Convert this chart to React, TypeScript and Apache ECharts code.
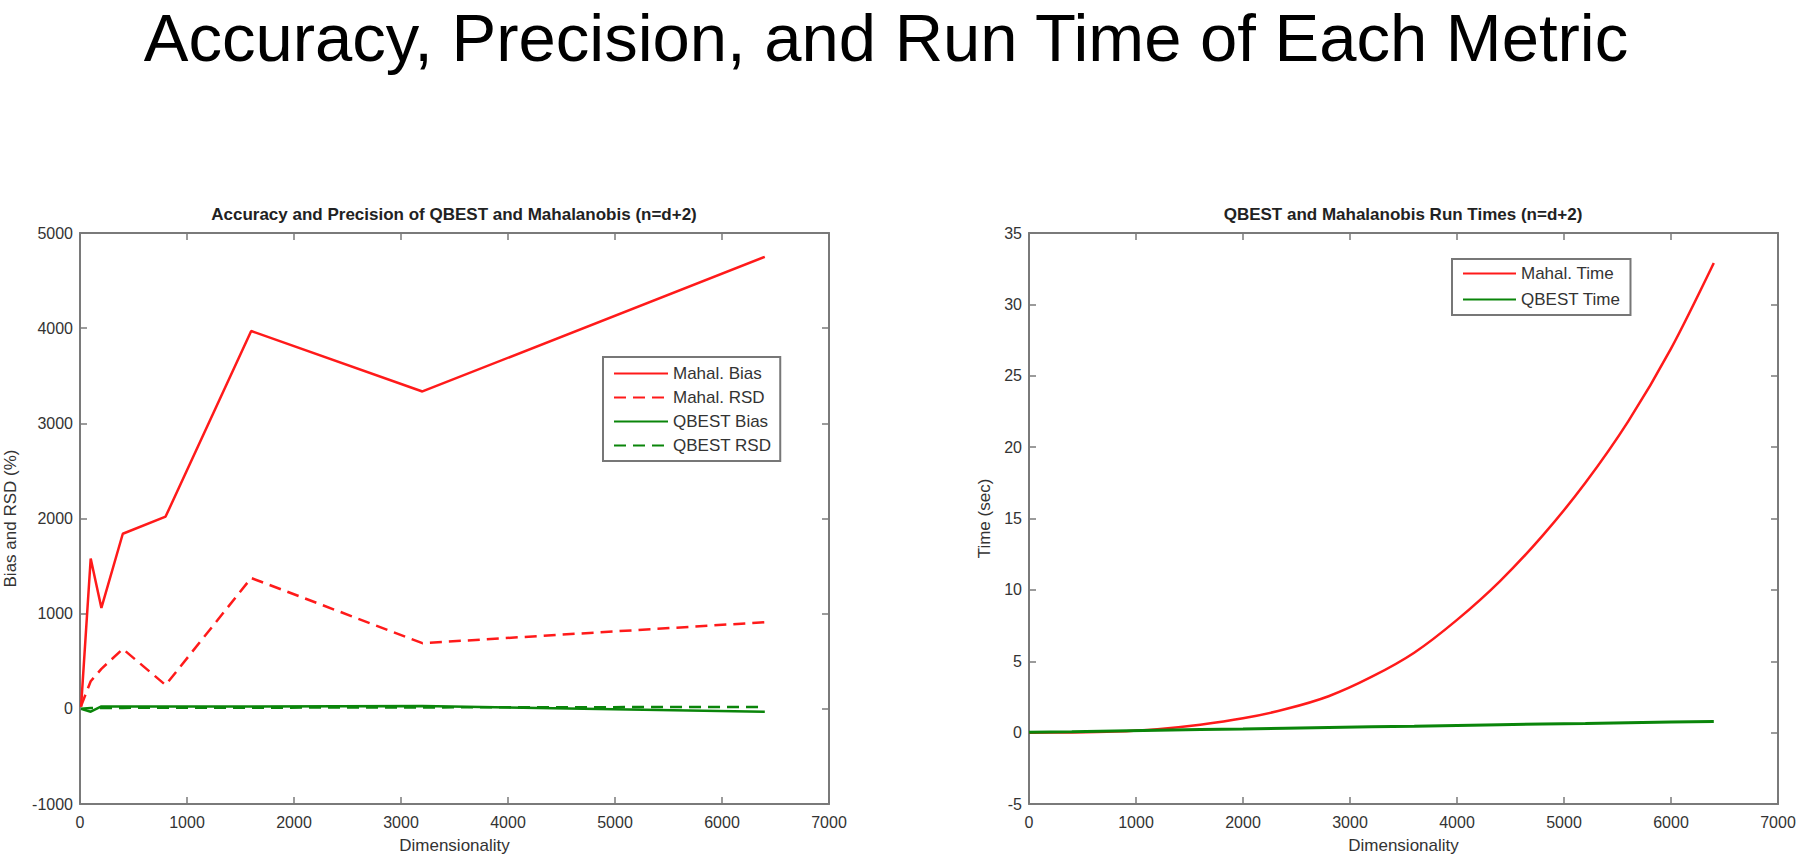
import React, { useEffect, useRef } from "react";
import * as echarts from "echarts";

// ---------- data ----------
const mainTitle = "Accuracy, Precision, and Run Time of Each Metric";
const leftTitle = "Accuracy and Precision of QBEST and Mahalanobis (n=d+2)";
const rightTitle = "QBEST and Mahalanobis Run Times (n=d+2)";

const dims = [10, 100, 200, 400, 800, 1600, 3200, 6400];
const mahalBias = [20, 1580, 1060, 1840, 2020, 3970, 3335, 4750];
const mahalRSD = [30, 290, 420, 630, 250, 1375, 690, 910];
const qbestBias = [0, -30, 25, 25, 25, 25, 30, -30];
const qbestRSD = [0, 10, 10, 10, 12, 12, 15, 20];

const timeDims = [0, 400, 800, 1200, 1600, 2000, 2400, 2800, 3200, 3600, 4000, 4400, 4800, 5200, 5600, 6000, 6400];
const mahalTime = [0, 0.01, 0.07, 0.24, 0.55, 1.0, 1.65, 2.55, 3.9, 5.6, 7.9, 10.6, 13.8, 17.5, 21.8, 26.9, 32.9];
const qbestTime = [0.03, 0.07, 0.12, 0.17, 0.22, 0.26, 0.31, 0.36, 0.41, 0.45, 0.5, 0.55, 0.6, 0.64, 0.69, 0.74, 0.78];

const leftNames = ["Mahal. Bias", "Mahal. RSD", "QBEST Bias", "QBEST RSD"];
const rightNames = ["Mahal. Time", "QBEST Time"];

const zip = (xs: number[], ys: number[]) => xs.map((x, i) => [x, ys[i]]);

const FONT = "Liberation Sans, Arial, sans-serif";
const AXIS_COLOR = "#7a7a7a";
const TEXT_COLOR = "#333333";
const RED = "#ff1a1a";
const GREEN = "#0a850a";

export default function App() {
  const ref = useRef<HTMLDivElement>(null);

  useEffect(() => {
    document.body.style.margin = "0";
    if (!ref.current) return;
    const chart = echarts.init(ref.current, undefined, { renderer: "svg" });

    const grids = [
      { left: 80, top: 233, width: 749, height: 572 },
      { left: 1029, top: 233, width: 749, height: 572 },
    ];

    const fmt = (v: number) => String(v);

    const mkX = (gridIndex: number, pos: "bottom" | "top", name?: string) => ({
      type: "value",
      gridIndex,
      position: pos,
      min: 0,
      max: 7000,
      interval: 1000,
      name: name || "",
      nameLocation: "middle",
      nameGap: 33,
      nameTextStyle: { fontFamily: FONT, fontSize: 17, color: TEXT_COLOR },
      axisLine: { show: true, onZero: false, lineStyle: { color: AXIS_COLOR, width: 2 } },
      axisTick: { show: true, inside: true, length: 7, lineStyle: { color: AXIS_COLOR, width: 1.5 } },
      axisLabel: {
        show: pos === "bottom",
        margin: 10,
        fontFamily: FONT,
        fontSize: 16,
        color: TEXT_COLOR,
        formatter: fmt,
      },
      splitLine: { show: false },
    });

    const mkY = (
      gridIndex: number,
      pos: "left" | "right",
      min: number,
      max: number,
      interval: number,
      name?: string,
      nameGap?: number
    ) => ({
      type: "value",
      gridIndex,
      position: pos,
      min,
      max,
      interval,
      name: name || "",
      nameLocation: "middle",
      nameGap: nameGap || 0,
      nameRotate: 90,
      nameTextStyle: { fontFamily: FONT, fontSize: 17, color: TEXT_COLOR },
      axisLine: { show: true, onZero: false, lineStyle: { color: AXIS_COLOR, width: 2 } },
      axisTick: { show: true, inside: true, length: 7, lineStyle: { color: AXIS_COLOR, width: 1.5 } },
      axisLabel: {
        show: pos === "left",
        margin: 7,
        fontFamily: FONT,
        fontSize: 16,
        color: TEXT_COLOR,
        formatter: fmt,
      },
      splitLine: { show: false },
    });

    const dash = [12, 7];

    const legendBase = {
      orient: "vertical",
      itemHeight: 14,
      borderColor: "#777777",
      borderWidth: 2,
      backgroundColor: "#ffffff",
      itemStyle: { opacity: 0 },
      textStyle: { fontFamily: FONT, fontSize: 17, color: TEXT_COLOR },
    };

    const option: any = {
      animation: false,
      backgroundColor: "#ffffff",
      grid: grids,
      xAxis: [
        mkX(0, "bottom", "Dimensionality"),
        mkX(0, "top"),
        mkX(1, "bottom", "Dimensionality"),
        mkX(1, "top"),
      ],
      yAxis: [
        mkY(0, "left", -1000, 5000, 1000, "Bias and RSD (%)", 61),
        mkY(0, "right", -1000, 5000, 1000),
        mkY(1, "left", -5, 35, 5, "Time (sec)", 36),
        mkY(1, "right", -5, 35, 5),
      ],
      legend: [
        {
          ...legendBase,
          data: leftNames,
          left: 603,
          top: 357,
          itemWidth: 54,
          itemGap: 7,
          padding: [8, 9, 7, 10],
        },
        {
          ...legendBase,
          data: rightNames,
          left: 1452,
          top: 259,
          itemWidth: 53,
          itemGap: 9,
          padding: [6, 10, 7, 10],
        },
      ],
      graphic: [
        {
          type: "text",
          x: 886,
          y: 37,
          style: {
            text: mainTitle,
            fontFamily: FONT,
            fontSize: 67,
            fill: "#000000",
            textAlign: "center",
            textVerticalAlign: "middle",
          },
        },
        {
          type: "text",
          x: 454,
          y: 214,
          style: {
            text: leftTitle,
            fontFamily: FONT,
            fontSize: 17,
            fontWeight: "bold",
            fill: "#222222",
            textAlign: "center",
            textVerticalAlign: "middle",
          },
        },
        {
          type: "text",
          x: 1403,
          y: 214,
          style: {
            text: rightTitle,
            fontFamily: FONT,
            fontSize: 17,
            fontWeight: "bold",
            fill: "#222222",
            textAlign: "center",
            textVerticalAlign: "middle",
          },
        },
      ],
      series: [
        {
          name: leftNames[0],
          type: "line",
          xAxisIndex: 0,
          yAxisIndex: 0,
          symbol: "none",
          data: zip(dims, mahalBias),
          color: RED,
          lineStyle: { color: RED, width: 2.5, type: "solid" },
          z: 4,
        },
        {
          name: leftNames[1],
          type: "line",
          xAxisIndex: 0,
          yAxisIndex: 0,
          symbol: "none",
          data: zip(dims, mahalRSD),
          color: RED,
          lineStyle: { color: RED, width: 2.5, type: dash },
          z: 3,
        },
        {
          name: leftNames[2],
          type: "line",
          xAxisIndex: 0,
          yAxisIndex: 0,
          symbol: "none",
          data: zip(dims, qbestBias),
          color: GREEN,
          lineStyle: { color: GREEN, width: 2.5, type: "solid" },
          z: 2,
        },
        {
          name: leftNames[3],
          type: "line",
          xAxisIndex: 0,
          yAxisIndex: 0,
          symbol: "none",
          data: zip(dims, qbestRSD),
          color: GREEN,
          lineStyle: { color: GREEN, width: 2.5, type: dash },
          z: 2,
        },
        {
          name: rightNames[0],
          type: "line",
          xAxisIndex: 2,
          yAxisIndex: 2,
          symbol: "none",
          smooth: 0.3,
          data: zip(timeDims, mahalTime),
          color: RED,
          lineStyle: { color: RED, width: 2.5 },
          z: 3,
        },
        {
          name: rightNames[1],
          type: "line",
          xAxisIndex: 2,
          yAxisIndex: 2,
          symbol: "none",
          data: zip(timeDims, qbestTime),
          color: GREEN,
          lineStyle: { color: GREEN, width: 3 },
          z: 4,
        },
      ],
    };

    chart.setOption(option);
    return () => chart.dispose();
  }, []);

  return <div ref={ref} style={{ width: 1800, height: 859 }} />;
}
